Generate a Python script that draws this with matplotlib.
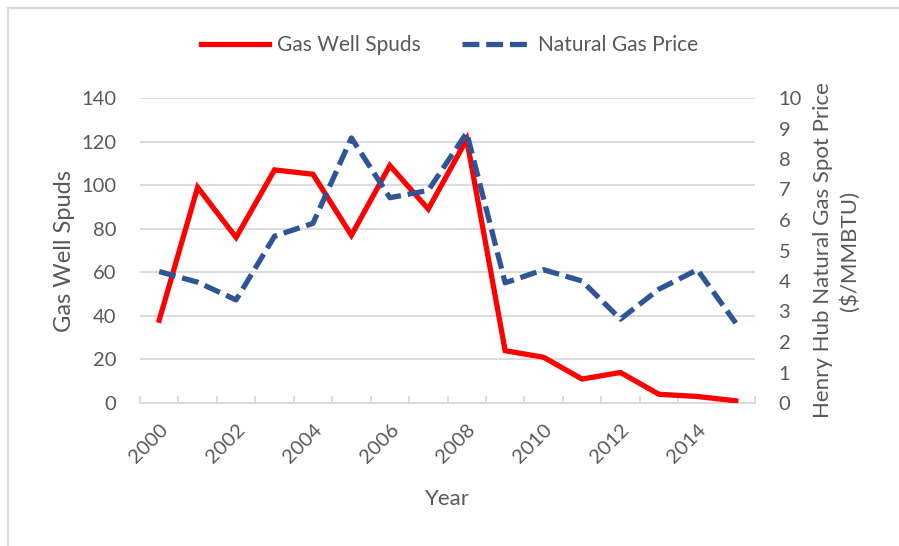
import numpy as np
import matplotlib.pyplot as plt
from matplotlib.lines import Line2D

years = list(range(2000, 2016))
spuds = [38, 99, 76, 107, 105, 77, 109, 89, 121, 24, 21, 11, 14, 4, 3, 1]
price = [4.31, 3.96, 3.38, 5.47, 5.89, 8.69, 6.73, 6.97, 8.86, 3.94, 4.37, 4.00, 2.75, 3.73, 4.37, 2.62]

plt.rcParams['font.family'] = ['Lato', 'DejaVu Sans']
txt = '#595959'
grid = '#d9d9d9'
W, H = 899, 546

fig = plt.figure(figsize=(W / 100, H / 100), dpi=100)
ax = fig.add_axes([140 / W, 1 - 403 / H, 615 / W, 305 / H])
ax2 = ax.twinx()

x = np.arange(len(years))
ax.plot(x, spuds, color='#ff0000', lw=3.8, solid_joinstyle='miter', label='Gas Well Spuds', zorder=3)
ax2.plot(x, price, color='#2f5597', lw=3.8, ls=(0, (3.2, 1.3)), label='Natural Gas Price', zorder=3)

ax.set_xlim(-0.5, len(years) - 0.5)
ax.set_ylim(0, 140)
ax.set_yticks(np.arange(0, 141, 20))
ax2.set_ylim(0, 10)
ax2.set_yticks(np.arange(0, 11, 1))

ax.set_xticks(x[::2])
ax.set_xticklabels([str(y) for y in years[::2]], rotation=45, ha='right', rotation_mode='anchor')
ax.set_xticks(np.arange(-0.5, len(years), 1), minor=True)
ax.tick_params(axis='x', which='major', length=0, pad=13, labelsize=14.5, labelcolor=txt)
ax.tick_params(axis='x', which='minor', direction='in', length=5, color=grid, width=1.3)
ax.tick_params(axis='y', length=0, labelsize=14.5, labelcolor=txt, pad=17)
ax2.tick_params(axis='y', length=0, labelsize=14.5, labelcolor=txt, pad=17)

ax.grid(axis='y', color=grid, lw=1.3)
ax.set_axisbelow(True)
for a in (ax, ax2):
    for s in a.spines.values():
        s.set_visible(False)
ax.spines['bottom'].set_visible(True)
ax.spines['bottom'].set_color(grid)
ax.spines['bottom'].set_linewidth(1.3)

ax.set_xlabel('Year', fontsize=16, color=txt, labelpad=16)
ax.set_ylabel('Gas Well Spuds', fontsize=17, color=txt)
ax.yaxis.set_label_coords(-65 / 615, 0.5)
ax2.set_ylabel('Henry Hub Natural Gas Spot Price\n($/MMBTU)', fontsize=16, color=txt, linespacing=1.4)
ax2.yaxis.set_label_coords(1 + 58 / 615, 0.5)

h1, l1 = ax.get_legend_handles_labels()
h2, l2 = ax2.get_legend_handles_labels()
fig.legend(h1 + h2, l1 + l2, loc='center', bbox_to_anchor=(0.5, 1 - 45 / H), ncol=2,
           frameon=False, fontsize=15, labelcolor=txt, handlelength=3.3, handletextpad=0.35,
           columnspacing=2.0)

# outer chart frame (only left and top edges fall inside the image)
fig.add_artist(Line2D([7.5 / W, 7.5 / W], [0, 1 - 8 / H], transform=fig.transFigure, color=grid, lw=1.5))
fig.add_artist(Line2D([7.5 / W, 1], [1 - 8 / H, 1 - 8 / H], transform=fig.transFigure, color=grid, lw=1.5))

fig.savefig('out.png', dpi=100)
